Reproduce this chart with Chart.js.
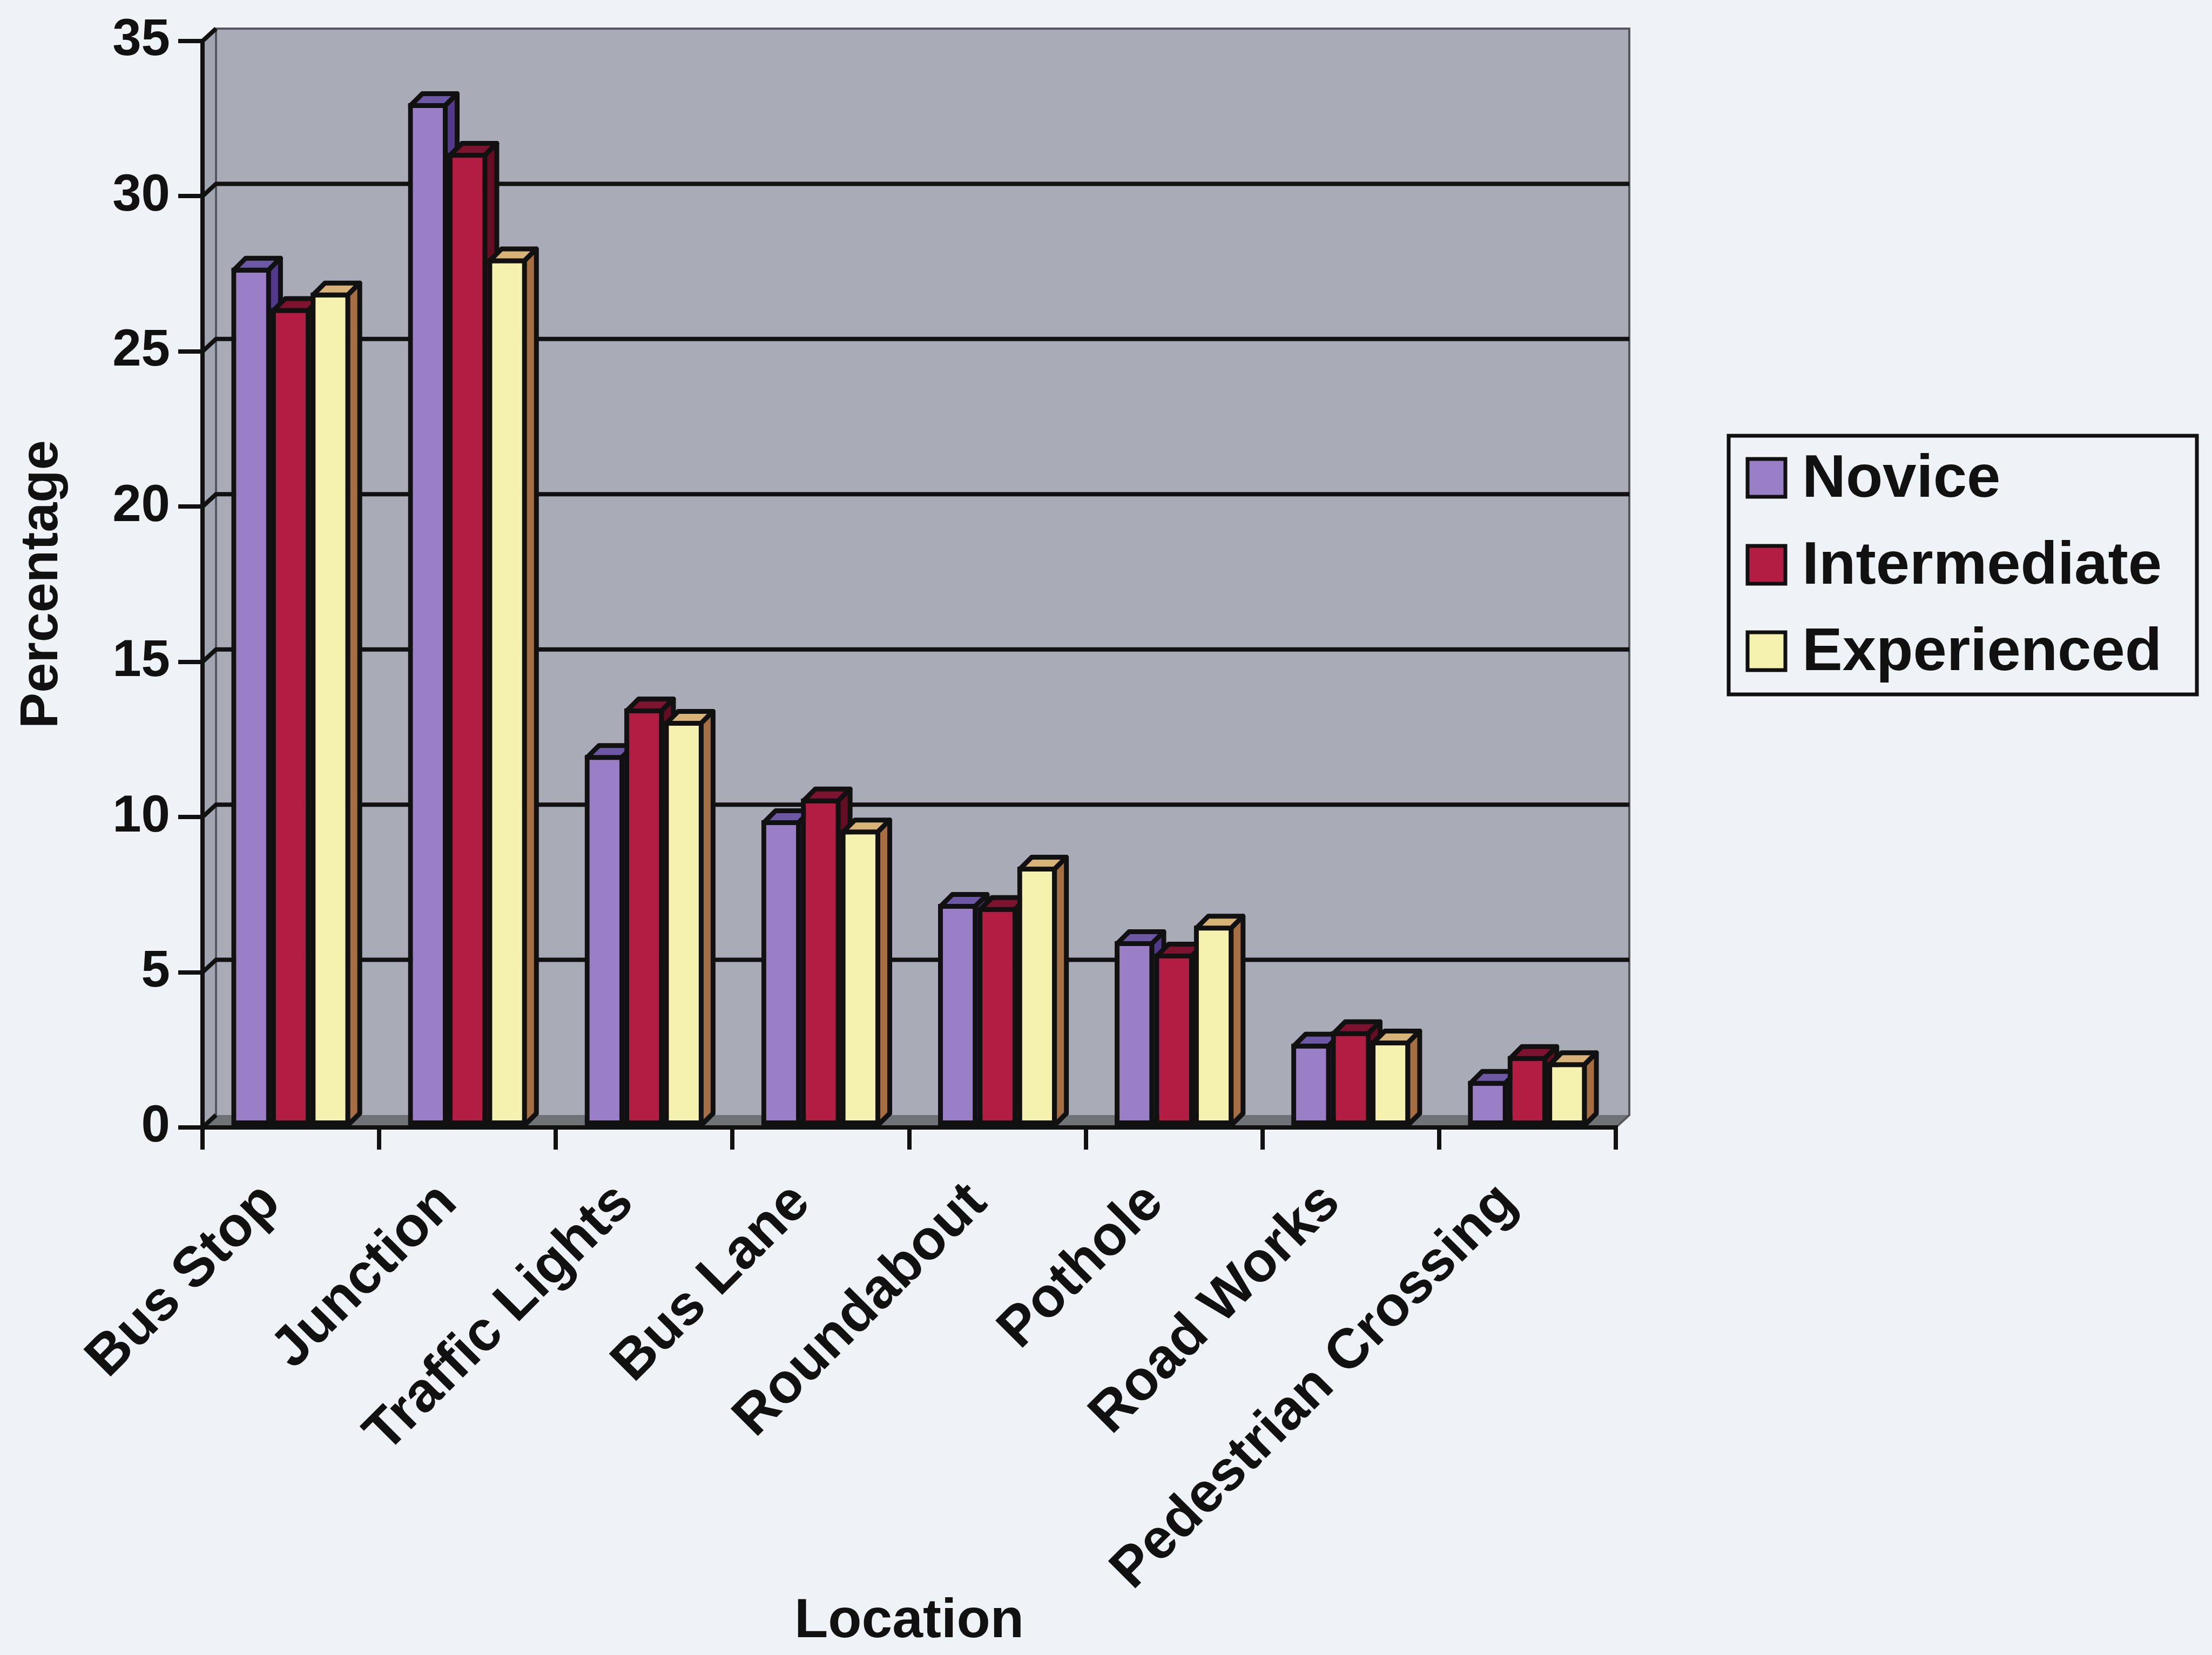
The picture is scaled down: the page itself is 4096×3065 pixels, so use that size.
<!DOCTYPE html>
<html>
<head>
<meta charset="utf-8">
<script src="https://cdn.jsdelivr.net/npm/chart.js@4.4.1/dist/chart.umd.min.js"></script>
<style>
  html, body { margin: 0; padding: 0; background: #eff2f7; }
  #wrap { position: relative; width: 4096px; height: 3065px; }
  canvas { display: block; }
</style>
</head>
<body>
<div id="wrap"><canvas id="c" width="4096" height="3065"></canvas></div>
<script>
// Share of crashes by location, per driver experience group (%)
const locations = ['Bus Stop', 'Junction', 'Traffic Lights', 'Bus Lane', 'Roundabout', 'Pothole', 'Road Works', 'Pedestrian Crossing'];
const novice       = [27.7, 33.0, 12.0, 9.9, 7.2, 6.0, 2.7, 1.5];
const intermediate = [26.4, 31.4, 13.5, 10.6, 7.1, 5.6, 3.1, 2.3];
const experienced  = [26.9, 28.0, 13.1, 9.6, 8.4, 6.5, 2.8, 2.1];
const seriesNames  = ['Novice', 'Intermediate', 'Experienced'];
const valueTicks   = [0, 5, 10, 15, 20, 25, 30, 35];

const FONT = '"Liberation Sans", Arial, Helvetica, sans-serif';
const INK = '#111111';
const PAGE = '#eff2f7';

// front / top / side shades of each series
const frontColors = ['#9a7ec6', '#b41d43', '#f4f2ae'];
const topColors   = ['#6c58a4', '#7e1331', '#d8b378'];
const sideColors  = ['#51398b', '#650d24', '#a66e43'];

const BAR_DEPTH = { dx: 22, dy: -22 };
const WALL_DEPTH = { dx: 25, dy: -23 };
const EDGE = 9;

function poly(ctx, pts, fill) {
  ctx.beginPath();
  ctx.moveTo(pts[0][0], pts[0][1]);
  for (let k = 1; k < pts.length; k++) ctx.lineTo(pts[k][0], pts[k][1]);
  ctx.closePath();
  if (fill) { ctx.fillStyle = fill; ctx.fill(); }
  ctx.stroke();
}

// page, back wall, side wall, floor and wall gridlines
const wallPlugin = {
  id: 'wall',
  beforeDraw(chart) {
    const { ctx, chartArea: a, scales: { y } } = chart;
    const top = y.getPixelForValue(y.max);
    const base = y.getPixelForValue(0);
    const L = a.left, R = a.right, dx = WALL_DEPTH.dx, dy = WALL_DEPTH.dy;
    ctx.save();
    ctx.fillStyle = PAGE;
    ctx.fillRect(0, 0, chart.width, chart.height);

    ctx.fillStyle = '#a9acb6';
    ctx.fillRect(L + dx, top + dy, R - L, base - top);

    ctx.beginPath();
    ctx.moveTo(L, top); ctx.lineTo(L + dx, top + dy); ctx.lineTo(L + dx, base + dy); ctx.lineTo(L, base);
    ctx.closePath(); ctx.fillStyle = '#a1a5b0'; ctx.fill();

    ctx.beginPath();
    ctx.moveTo(L, base); ctx.lineTo(L + dx, base + dy); ctx.lineTo(R + dx, base + dy); ctx.lineTo(R, base);
    ctx.closePath(); ctx.fillStyle = '#6f7277'; ctx.fill();

    ctx.strokeStyle = '#55565e';
    ctx.lineWidth = 4;
    ctx.beginPath();
    ctx.moveTo(L + dx, base + dy); ctx.lineTo(L + dx, top + dy); ctx.lineTo(R + dx, top + dy);
    ctx.lineTo(R + dx, base + dy); ctx.lineTo(R, base);
    ctx.stroke();

    ctx.strokeStyle = INK;
    ctx.lineWidth = 8;
    ctx.lineCap = 'butt';
    y.ticks.forEach(t => {
      const py = y.getPixelForValue(t.value);
      ctx.beginPath();
      ctx.moveTo(L, py);
      ctx.lineTo(L + dx, py + dy);
      if (t.value > 0 && t.value < y.max) ctx.lineTo(R + dx, py + dy);
      ctx.stroke();
    });
    ctx.restore();
  }
};

// columns drawn series by series, left to right, each with its top and side faces
const columnFaces = {
  id: 'columnFaces',
  afterDatasetsDraw(chart) {
    const { ctx } = chart;
    const h = EDGE / 2, dx = BAR_DEPTH.dx, dy = BAR_DEPTH.dy;
    chart.data.datasets.forEach((ds, i) => {
      const meta = chart.getDatasetMeta(i);
      meta.data.forEach(bar => {
        bar.draw(ctx);
        const { x, y, base, width } = bar.getProps(['x', 'y', 'base', 'width'], true);
        const l = x - width / 2 + h, r = x + width / 2 - h, t = y + h, b = base;
        ctx.save();
        ctx.lineWidth = EDGE;
        ctx.strokeStyle = INK;
        ctx.lineJoin = 'round';
        poly(ctx, [[l, t], [l + dx, t + dy], [r + dx, t + dy], [r, t]], topColors[i]);
        poly(ctx, [[r, t], [r + dx, t + dy], [r + dx, b + dy], [r, b]], sideColors[i]);
        ctx.restore();
      });
    });
  }
};

// boxed legend beside the plot
const boxLegend = {
  id: 'boxLegend',
  afterDraw(chart) {
    const { ctx } = chart;
    const box = { x: 3201, y: 807, w: 867, h: 479 };
    ctx.save();
    ctx.fillStyle = PAGE;
    ctx.fillRect(box.x, box.y, box.w, box.h);
    ctx.lineWidth = 7;
    ctx.strokeStyle = INK;
    ctx.strokeRect(box.x, box.y, box.w, box.h);
    const rows = [885, 1046, 1206];
    ctx.font = 'bold 112px ' + FONT;
    ctx.textBaseline = 'middle';
    ctx.textAlign = 'left';
    chart.data.datasets.forEach((ds, k) => {
      const cy = rows[k];
      ctx.fillStyle = ds.backgroundColor;
      ctx.fillRect(3236, cy - 35, 70, 70);
      ctx.lineWidth = 7;
      ctx.strokeRect(3236, cy - 35, 70, 70);
      ctx.fillStyle = INK;
      ctx.fillText(ds.label, 3337, cy + 4);
    });
    ctx.restore();
  }
};

const seriesValues = [novice, intermediate, experienced];

new Chart(document.getElementById('c'), {
  type: 'bar',
  data: {
    labels: locations,
    datasets: seriesNames.map((name, k) => ({
      label: name,
      data: seriesValues[k],
      backgroundColor: frontColors[k],
      borderColor: INK,
      borderWidth: EDGE,
      borderSkipped: false,
      categoryPercentage: 0.673,
      barPercentage: 1.0
    }))
  },
  options: {
    responsive: false,
    devicePixelRatio: 1,
    animation: false,
    events: [],
    layout: { padding: { left: 10, top: 76, right: 1104, bottom: 0 } },
    plugins: {
      legend: { display: false },
      tooltip: { enabled: false },
      title: { display: false }
    },
    scales: {
      y: {
        min: 0,
        max: 35,
        afterBuildTicks: s => { s.ticks = valueTicks.map(v => ({ value: v })); },
        afterFit: s => { s.width = 365; },
        ticks: {
          color: INK,
          font: { family: FONT, size: 96, weight: 'bold' },
          padding: 15
        },
        grid: { drawOnChartArea: false, drawTicks: true, tickLength: 45, color: INK, lineWidth: 8 },
        border: { display: true, color: INK, width: 8 },
        title: {
          display: true,
          text: 'Percentage',
          color: INK,
          font: { family: FONT, size: 99, weight: 'bold' },
          padding: { top: 9, bottom: 0 }
        }
      },
      x: {
        afterFit: s => { s.height = 977; },
        ticks: {
          color: INK,
          font: { family: FONT, size: 104, weight: 'bold' },
          maxRotation: 45,
          minRotation: 45,
          autoSkip: false,
          padding: 38,
          labelOffset: -36
        },
        grid: { drawOnChartArea: false, drawTicks: true, tickLength: 41, color: INK, lineWidth: 8, offset: true },
        border: { display: true, color: INK, width: 8 },
        title: {
          display: true,
          text: 'Location',
          color: INK,
          font: { family: FONT, size: 102, weight: 'bold' },
          padding: { top: 0, bottom: 0 }
        }
      }
    }
  },
  plugins: [wallPlugin, columnFaces, boxLegend]
});
</script>
</body>
</html>
